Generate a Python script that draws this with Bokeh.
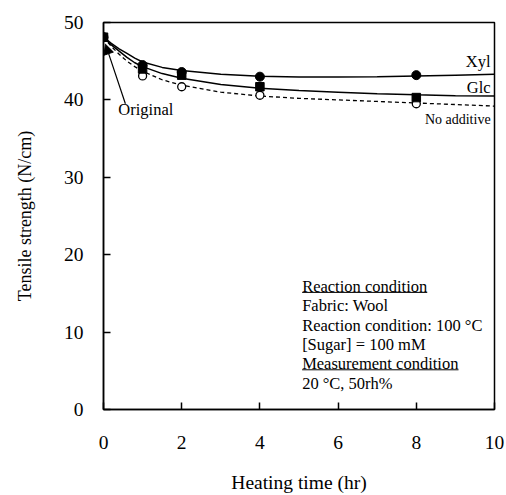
from bokeh.plotting import figure
from bokeh.models import Range1d, FixedTicker, Arrow, NormalHead
from bokeh.core.properties import value
from bokeh.embed import file_html
from bokeh.resources import INLINE

time_hr = [0, 1, 2, 4, 8]
xyl = [48.1, 44.5, 43.6, 43.0, 43.2]
glc = [48.1, 44.0, 43.2, 41.7, 40.3]
no_additive = [48.1, 43.1, 41.7, 40.6, 39.5]

# ---- trend curves ----
curve_x = [0, 0.2, 0.4, 0.6, 0.8, 1, 1.5, 2, 3, 4, 5, 6, 7, 8, 9, 10]
xyl_curve = [48.1, 47.3, 46.6, 46.0, 45.4, 44.9, 44.2, 43.8, 43.3, 43.05, 42.95, 42.95, 43.0, 43.1, 43.2, 43.3]
glc_curve = [48.1, 47.1, 46.3, 45.5, 44.8, 44.3, 43.4, 42.8, 42.0, 41.5, 41.2, 41.0, 40.8, 40.65, 40.55, 40.5]
no_additive_curve = [48.1, 46.9, 45.9, 45.0, 44.3, 43.7, 42.6, 41.9, 41.0, 40.5, 40.2, 40.0, 39.8, 39.6, 39.4, 39.2]

x_ticks = [0, 2, 4, 6, 8, 10]
y_ticks = [0, 10, 20, 30, 40, 50]

note_lines = ["Reaction condition", "Fabric: Wool", "Reaction condition: 100 \u00b0C",
              "[Sugar] = 100 mM", "Measurement condition", "20 \u00b0C, 50rh%"]
underlined = [True, False, False, False, True, False]

FONT = "Liberation Serif"

p = figure(width=506, height=495, output_backend="svg", toolbar_location=None,
           x_range=Range1d(0, 10), y_range=Range1d(0, 50),
           min_border_left=103, min_border_right=12, min_border_top=22, min_border_bottom=86)
p.background_fill_color = "white"
p.border_fill_color = "white"
p.outline_line_color = "black"
p.outline_line_width = 1.5
p.xgrid.visible = False
p.ygrid.visible = False

for ax in (p.xaxis[0], p.yaxis[0]):
    ax.axis_line_color = "black"
    ax.axis_line_width = 1.5
    ax.major_tick_in = 7
    ax.major_tick_out = 0
    ax.major_tick_line_width = 1.5
    ax.minor_tick_line_color = None
    ax.major_label_text_font = FONT
    ax.major_label_text_font_size = "19.5px"
    ax.major_label_text_color = "black"
    ax.axis_label_text_font = FONT
    ax.axis_label_text_font_style = "normal"
    ax.axis_label_text_color = "black"

p.xaxis.ticker = FixedTicker(ticks=x_ticks)
p.yaxis.ticker = FixedTicker(ticks=y_ticks)
p.xaxis.axis_label = "Heating time (hr)"
p.yaxis.axis_label = "Tensile strength (N/cm)"
p.xaxis.axis_label_text_font_size = "19.5px"
p.yaxis.axis_label_text_font_size = "18px"
p.xaxis.major_label_standoff = 26
p.xaxis.axis_label_standoff = 20
p.yaxis.major_label_standoff = 20
p.yaxis.axis_label_standoff = 26

p.line(curve_x, no_additive_curve, line_color="black", line_width=1.3, line_dash="4 3")
p.line(curve_x, glc_curve, line_color="black", line_width=1.5)
p.line(curve_x, xyl_curve, line_color="black", line_width=1.5)

p.scatter(time_hr, no_additive, marker="circle", size=8, fill_color="white",
          line_color="black", line_width=1.3)
p.scatter(time_hr, xyl, marker="circle", size=9, fill_color="black", line_color="black")
p.scatter(time_hr, glc, marker="square", size=8.5, fill_color="black", line_color="black")

# series labels
p.text(x=[9.9], y=[45.0], text=["Xyl"], text_align="right", text_baseline="middle",
       text_font=value(FONT), text_font_size="16.5px", text_color="black")
p.text(x=[9.9], y=[41.6], text=["Glc"], text_align="right", text_baseline="middle",
       text_font=value(FONT), text_font_size="16.5px", text_color="black")
p.text(x=[9.9], y=[37.5], text=["No additive"], text_align="right", text_baseline="middle",
       text_font=value(FONT), text_font_size="14px", text_color="black")

# "Original" with arrow
p.text(x=[0.38], y=[38.7], text=["Original"], text_align="left", text_baseline="middle",
       text_font=value(FONT), text_font_size="16.5px", text_color="black")
p.add_layout(Arrow(end=NormalHead(size=10, fill_color="black", line_color="black", line_width=1),
                   x_start=0.56, y_start=39.5, x_end=0.05, y_end=47.2,
                   line_color="black", line_width=1.2))

# condition notes
note_x = 5.08
note_y0 = 15.88
note_step = 2.5
note_y = [note_y0 - i * note_step for i in range(len(note_lines))]
p.text(x=[note_x] * len(note_lines), y=note_y, text=note_lines, text_align="left",
       text_baseline="middle", text_font=value(FONT), text_font_size="16.5px", text_color="black")
ul_widths = {"Reaction condition": 3.2, "Measurement condition": 4.0}
for line, yy, ul in zip(note_lines, note_y, underlined):
    if ul:
        p.segment(x0=[note_x], y0=[yy - 0.75], x1=[note_x + ul_widths[line]], y1=[yy - 0.75],
                  line_color="black", line_width=1)

open("out.html", "w").write(file_html(p, INLINE))
